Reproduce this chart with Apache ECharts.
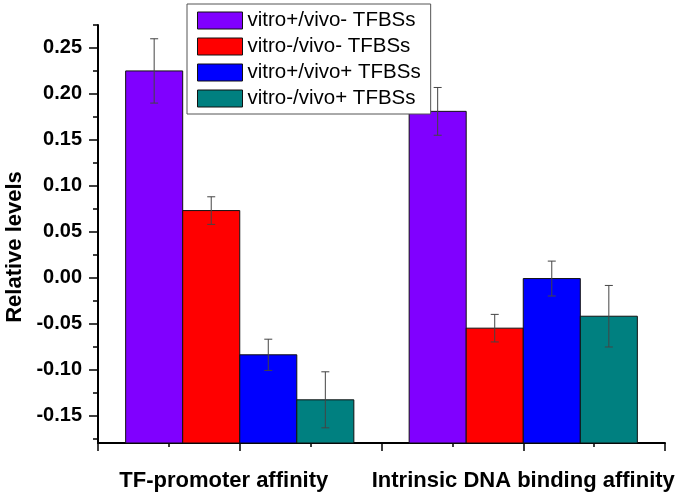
<!DOCTYPE html>
<html><head><meta charset="utf-8">
<script src="https://cdn.jsdelivr.net/npm/echarts@6/dist/echarts.min.js"></script>
<style>html,body{margin:0;padding:0;background:#fff}#c{width:685px;height:500px}</style>
</head><body><div id="c"></div>
<script>
const categories = ['TF-promoter affinity', 'Intrinsic DNA binding affinity'];
const seriesNames = ['vitro+/vivo- TFBSs', 'vitro-/vivo- TFBSs', 'vitro+/vivo+ TFBSs', 'vitro-/vivo+ TFBSs'];
const vitroPlusVivoMinus = [0.225, 0.181];
const vitroPlusVivoMinusErr = [0.035, 0.026];
const vitroMinusVivoMinus = [0.073, -0.055];
const vitroMinusVivoMinusErr = [0.015, 0.015];
const vitroPlusVivoPlus = [-0.084, -0.001];
const vitroPlusVivoPlusErr = [0.017, 0.019];
const vitroMinusVivoPlus = [-0.133, -0.042];
const vitroMinusVivoPlusErr = [0.0305, 0.0335];
const yTickLabels = [-0.15, -0.10, -0.05, 0.00, 0.05, 0.10, 0.15, 0.20, 0.25];
const yMinorTicks = [-0.175, -0.125, -0.075, -0.025, 0.025, 0.075, 0.125, 0.175, 0.225, 0.275];
const yMin = -0.18, yMax = 0.275;

const colors = ['#8000FF', '#FF0000', '#0000FF', '#008080'];
const values = [vitroPlusVivoMinus, vitroMinusVivoMinus, vitroPlusVivoPlus, vitroMinusVivoPlus];
const errs = [vitroPlusVivoMinusErr, vitroMinusVivoMinusErr, vitroPlusVivoPlusErr, vitroMinusVivoPlusErr];
const FONT = '"Liberation Sans", Arial, sans-serif';
const groupFill = 0.805;

function makeRender(k) {
  return function (params, api) {
    const cat = api.value(0), v = api.value(1), e = api.value(2);
    const top = api.coord([cat, v]);
    const base = api.coord([cat, yMin]);
    const band = api.size([1, 0])[0];
    const bw = band * groupFill / 4;
    const x0 = top[0] + (k - 2) * bw;
    const cx = x0 + bw / 2;
    const hi = api.coord([cat, v + e])[1];
    const lo = api.coord([cat, v - e])[1];
    const cap = 4;
    const lineStyle = { stroke: '#444', lineWidth: 1 };
    return {
      type: 'group',
      children: [
        { type: 'rect', shape: { x: x0, y: top[1], width: bw, height: base[1] - top[1] },
          style: { fill: colors[k], stroke: '#111', lineWidth: 1 } },
        { type: 'line', shape: { x1: cx, y1: hi, x2: cx, y2: lo }, style: lineStyle },
        { type: 'line', shape: { x1: cx - cap, y1: hi, x2: cx + cap, y2: hi }, style: lineStyle },
        { type: 'line', shape: { x1: cx - cap, y1: lo, x2: cx + cap, y2: lo }, style: lineStyle }
      ]
    };
  };
}

const series = seriesNames.map((name, k) => ({
  name: name,
  type: 'custom',
  xAxisIndex: 0,
  yAxisIndex: 0,
  itemStyle: { color: colors[k], borderColor: '#111', borderWidth: 1 },
  encode: { x: 0, y: 1 },
  data: categories.map((c, i) => [i, values[k][i], errs[k][i]]),
  renderItem: makeRender(k),
  z: 2
}));

const labelFont = { fontFamily: FONT, fontSize: 22, fontWeight: 'bold', color: '#000' };

const chart = echarts.init(document.getElementById('c'), null, { renderer: 'canvas' });
chart.setOption({
  animation: false,
  backgroundColor: '#fff',
  grid: { left: 98, right: 20, top: 25, bottom: 57, containLabel: false, outerBoundsMode: 'none' },
  legend: {
    orient: 'vertical',
    left: 187, top: 4,
    padding: [6, 10, 5, 10],
    itemWidth: 45, itemHeight: 17, itemGap: 5,
    borderColor: '#555', borderWidth: 1,
    backgroundColor: '#fff',
    textStyle: { fontFamily: FONT, fontSize: 20.5, color: '#000' },
    data: seriesNames.map((n, k) => ({ name: n, icon: 'rect', itemStyle: { color: colors[k], borderColor: '#111', borderWidth: 1 } }))
  },
  xAxis: [
    {
      type: 'category', data: categories, position: 'bottom',
      axisLine: { onZero: false, lineStyle: { color: '#000', width: 2 } },
      axisTick: { show: false },
      axisLabel: Object.assign({}, labelFont, {
        margin: 27, interval: 0,
        formatter: (v, i) => (i === 0 ? '{a|' + v + '}' : '{b|' + v + '}'),
        rich: {
          a: Object.assign({}, labelFont, { padding: [0, 32, 0, 0] }),
          b: Object.assign({}, labelFont, { padding: [0, 0, 0, 0] })
        }
      }),
      splitLine: { show: false }
    },
    {
      type: 'value', min: 0, max: 4, interval: 1, position: 'bottom',
      axisLine: { show: false, onZero: false },
      axisTick: { show: true, length: 8, lineStyle: { color: '#000', width: 1.5 } },
      minorTick: { show: true, splitNumber: 2, length: 4, lineStyle: { color: '#000', width: 1.5 } },
      axisLabel: { show: false },
      splitLine: { show: false }
    }
  ],
  yAxis: [
    {
      type: 'value', min: yMin, max: yMax, position: 'left',
      name: 'Relative levels', nameLocation: 'middle', nameGap: 68,
      nameTextStyle: { fontFamily: FONT, fontSize: 22, fontWeight: 'bold', color: '#000', padding: [0, 26, 0, 0] },
      axisLine: { show: true, onZero: false, lineStyle: { color: '#000', width: 2 } },
      axisTick: { show: true, length: 9, customValues: yTickLabels, lineStyle: { color: '#000', width: 1.5 } },
      axisLabel: { customValues: yTickLabels, fontFamily: FONT, fontSize: 20, fontWeight: 'bold', color: '#000', margin: 16,
        formatter: v => v.toFixed(2) },
      splitLine: { show: false }
    },
    {
      type: 'value', min: yMin, max: yMax, position: 'left',
      axisLine: { show: false, onZero: false },
      axisTick: { show: true, length: 5, customValues: yMinorTicks, lineStyle: { color: '#000', width: 1.5 } },
      axisLabel: { show: false },
      splitLine: { show: false }
    }
  ],
  series: series
});
</script>
</body></html>
